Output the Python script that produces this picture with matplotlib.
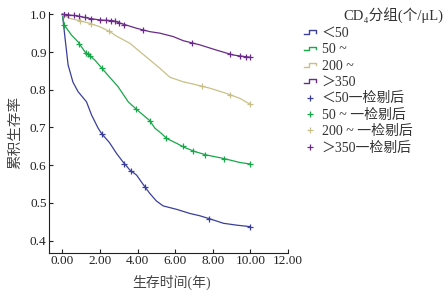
import numpy as np
import matplotlib
matplotlib.use("Agg")
import matplotlib.pyplot as plt
from matplotlib.lines import Line2D
from matplotlib.legend_handler import HandlerBase

plt.rcParams['font.family'] = ['Liberation Serif', 'Noto Sans CJK SC', 'DejaVu Serif']

# 生存曲线 (时间/年, 累积生存率)
t_lt50 = [0, 0.12, 0.3, 0.56, 0.83, 1.28, 1.55, 1.9, 2.08, 2.5, 2.88, 3.2, 3.59, 3.94,
          4.38, 4.65, 5.0, 5.36, 6.07, 6.78, 7.3, 7.76, 8.2, 8.56, 9.27, 10.0]
s_lt50 = [1.0, 0.945, 0.866, 0.82, 0.795, 0.768, 0.733, 0.698, 0.684, 0.66, 0.631, 0.61,
          0.587, 0.574, 0.543, 0.525, 0.505, 0.492, 0.483, 0.472, 0.466, 0.459, 0.452,
          0.446, 0.441, 0.437]

t_50 = [0, 0.09, 0.48, 0.83, 1.19, 1.72, 2.34, 2.96, 3.5, 4.03, 4.65, 4.92, 5.27, 5.54,
        6.07, 6.5, 7.05, 7.67, 8.56, 9.45, 10.0]
s_50 = [1.0, 0.972, 0.945, 0.927, 0.901, 0.879, 0.843, 0.808, 0.768, 0.744, 0.718, 0.698,
        0.684, 0.671, 0.658, 0.647, 0.636, 0.627, 0.618, 0.607, 0.603]

t_200 = [0, 0.39, 0.92, 1.45, 1.99, 2.52, 2.88, 3.59, 4.12, 4.65, 5.18, 5.72, 6.43, 6.96,
         7.85, 8.74, 9.45, 10.0]
s_200 = [1.0, 0.989, 0.983, 0.976, 0.967, 0.954, 0.942, 0.923, 0.901, 0.879, 0.857, 0.833,
         0.821, 0.815, 0.804, 0.79, 0.777, 0.761]

t_350 = [0, 0.75, 1.45, 1.99, 2.7, 3.23, 3.94, 4.65, 5.18, 5.89, 6.43, 7.31, 8.2, 9.09, 10.0]
s_350 = [1.0, 0.996, 0.989, 0.985, 0.983, 0.974, 0.963, 0.954, 0.95, 0.941, 0.93, 0.919,
         0.905, 0.892, 0.886]

# 删失时间
c_lt50 = [2.1, 3.3, 3.65, 4.4, 7.8, 10.0]
c_50 = [0.1, 0.9, 1.25, 1.35, 1.45, 2.1, 3.9, 4.65, 5.5, 6.4, 6.95, 7.6, 8.6, 10.0]
c_200 = [0.1, 0.95, 1.5, 2.5, 7.4, 8.9, 10.0]
c_350 = [0.1, 0.3, 0.6, 0.9, 1.2, 1.5, 2.0, 2.3, 2.6, 2.8, 3.0, 3.3, 4.3, 6.9, 8.9,
         9.45, 9.75, 10.0]

names = ['＜50', '50 ~', '200 ~', '＞350']
cens_names = ['＜50一检剔后', '50 ~ 一检剔后', '200 ~ 一检剔后', '＞350一检剔后']
colors = ['#3a3f9c', '#17a84a', '#c8c088', '#6a2a8a']

series = [(t_lt50, s_lt50, c_lt50), (t_50, s_50, c_50),
          (t_200, s_200, c_200), (t_350, s_350, c_350)]


class StepHandler(HandlerBase):
    def create_artists(self, legend, orig, xd, yd, w, h, fontsize, trans):
        xs = np.array([0.0, 0.4, 0.4, 0.95, 0.95]) * w - xd
        ys = np.array([0.3, 0.3, 0.7, 0.7, 0.45]) * h - yd
        ln = Line2D(xs, ys, color=orig.get_color(), lw=1.0)
        ln.set_transform(trans)
        return [ln]


fig = plt.figure(figsize=(4.46, 2.94), dpi=100)
ax = fig.add_axes([0.1105, 0.1405, 0.5352, 0.8173])

line_handles = []
cens_handles = []
for (t, s, c), col in zip(series, colors):
    ln, = ax.plot(t, s, color=col, lw=0.9)
    # 删失标记放在曲线上
    mk, = ax.plot(c, np.interp(c, t, s), ls='none', marker='+', ms=5, mew=0.9, color=col)
    line_handles.append(ln)
    cens_handles.append(mk)

ax.set_xlim(-0.7, 12)
ax.set_ylim(0.368, 1.005)
ax.set_xticks(np.arange(0, 12.01, 2))
ax.set_xticklabels(['%.2f' % v for v in np.arange(0, 12.01, 2)])
ax.set_yticks(np.arange(0.4, 1.01, 0.1))
ax.set_yticklabels(['%.1f' % v for v in np.arange(0.4, 1.01, 0.1)])
ax.tick_params(direction='in', length=3, width=0.8, labelsize=9.5, colors='#222222', pad=2)
for sp in ['top', 'right']:
    ax.spines[sp].set_visible(False)
for sp in ['left', 'bottom']:
    ax.spines[sp].set_linewidth(0.8)
    ax.spines[sp].set_color('#222222')

ax.set_xlabel('生存时间(年)', fontsize=10, color='#444444', va='center')
ax.xaxis.set_label_coords(0.514, -0.125)
ax.set_ylabel('累积生存率', fontsize=10.5, color='#444444', va='center')
ax.yaxis.set_label_coords(-0.14, 0.5)

handles = line_handles + cens_handles
labels = names + cens_names
hmap = {h: StepHandler() for h in line_handles}
leg = ax.legend(handles, labels, handler_map=hmap, loc='upper left',
                bbox_to_anchor=(0.681, 0.908), bbox_transform=fig.transFigure,
                frameon=False, fontsize=10, handlelength=0.9, handletextpad=0.4,
                labelspacing=0.24, borderaxespad=0.0, borderpad=0.0)
for txt in leg.get_texts():
    txt.set_color('#333333')

fig.text(0.995, 0.949, 'CD\u2084分组(个/μL)', fontsize=10.5, color='#333333',
         ha='right', va='center')

fig.savefig('out.png', dpi=100)
